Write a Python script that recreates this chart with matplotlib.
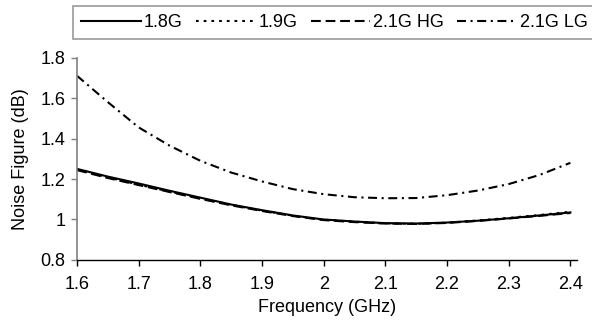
import numpy as np
import matplotlib.pyplot as plt

plt.rcParams['font.family'] = ['Liberation Sans', 'DejaVu Sans']

# frequency points (GHz)
freq = [1.60, 1.65, 1.70, 1.75, 1.80, 1.85, 1.90, 1.95, 2.00,
        2.05, 2.10, 2.15, 2.20, 2.25, 2.30, 2.35, 2.40]

# noise figure (dB)
nf_18 = [1.250, 1.212, 1.178, 1.142, 1.108, 1.074, 1.046, 1.020, 1.000,
         0.990, 0.982, 0.980, 0.985, 0.994, 1.006, 1.020, 1.035]
nf_19 = [1.247, 1.208, 1.172, 1.138, 1.104, 1.072, 1.044, 1.019, 0.999,
         0.989, 0.981, 0.979, 0.984, 0.995, 1.008, 1.022, 1.038]
nf_hg = [1.244, 1.205, 1.170, 1.136, 1.102, 1.070, 1.042, 1.017, 0.997,
         0.987, 0.980, 0.978, 0.983, 0.993, 1.005, 1.018, 1.032]
nf_lg = [1.710, 1.580, 1.455, 1.365, 1.290, 1.232, 1.188, 1.150, 1.125,
         1.110, 1.105, 1.106, 1.120, 1.143, 1.175, 1.220, 1.280]

fig = plt.figure(figsize=(5.92, 3.26), dpi=100)
ax = fig.add_axes([0.130, 0.2025, 0.845, 0.621])

lw = 1.5
ax.plot(freq, nf_18, color='black', lw=lw, label='1.8G')
ax.plot(freq, nf_19, color='black', lw=lw, linestyle=(0, (1.3, 2.4)), label='1.9G')
ax.plot(freq, nf_hg, color='black', lw=lw, linestyle=(0, (4.7, 2.3)), label='2.1G HG')
ax.plot(freq, nf_lg, color='black', lw=lw, linestyle=(0, (4.3, 2.2, 1.0, 2.2)), label='2.1G LG')

ax.set_xlim(1.6, 2.411)
ax.set_ylim(0.8, 1.8)
ax.set_xticks(np.arange(1.6, 2.41, 0.1))
ax.set_xticklabels(['1.6', '1.7', '1.8', '1.9', '2', '2.1', '2.2', '2.3', '2.4'])
ax.set_yticks(np.arange(0.8, 1.81, 0.2))
ax.set_yticklabels(['0.8', '1', '1.2', '1.4', '1.6', '1.8'])

ax.spines['top'].set_visible(False)
ax.spines['right'].set_visible(False)
ax.spines['left'].set_color('#808080')
ax.spines['left'].set_linewidth(1.2)
ax.spines['bottom'].set_color('black')
ax.spines['bottom'].set_linewidth(1.0)
ax.tick_params(axis='both', direction='out', length=4.5, width=1.0, labelsize=13)
ax.tick_params(axis='x', pad=7)
ax.tick_params(axis='y', pad=4, colors='#808080', labelcolor='black')

ax.set_xlabel('Frequency (GHz)', fontsize=13, labelpad=4)
ax.set_ylabel('Noise Figure (dB)', fontsize=13, labelpad=8)

leg = fig.legend(loc='center left', bbox_to_anchor=(64 / 592, 1 - 22.5 / 326),
                 ncol=4, fontsize=13, frameon=True, fancybox=False,
                 handlelength=3.3, handletextpad=0.15, columnspacing=0.75,
                 borderpad=0.45)
leg.get_frame().set_edgecolor('#808080')
leg.get_frame().set_linewidth(1.2)

fig.savefig('out.png', dpi=100)
